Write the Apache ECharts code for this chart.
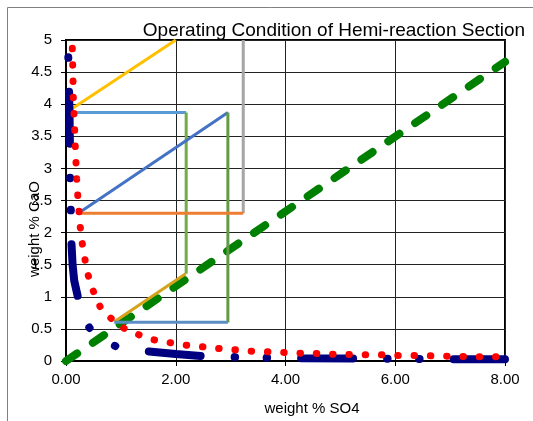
<!DOCTYPE html>
<html>
<head>
<meta charset="utf-8">
<script src="https://cdn.jsdelivr.net/npm/echarts@6/dist/echarts.min.js"></script>
<style>
html,body{margin:0;padding:0;background:#fff;}
#chart{width:533px;height:421px;}
</style>
</head>
<body>
<div id="chart"></div>
<script>
// ---- data ----
const titleText = 'Operating Condition of Hemi-reaction Section';
const xAxisName = 'weight % SO4';
const yAxisName = 'weight % CaO';
const xTickLabels = ['0.00', '2.00', '4.00', '6.00', '8.00'];
const yTickLabels = ['0', '0.5', '1', '1.5', '2', '2.5', '3', '3.5', '4', '4.5', '5'];

// red dotted curve
const redX = [0.115,0.122,0.128,0.133,0.146,0.158,0.169,0.182,0.195,0.213,0.237,0.26,0.297,0.346,0.406,0.497,0.619,0.814,1.056,1.324,1.60,1.90,2.19,2.48,2.78,3.07,3.36,3.66,3.96,4.26,4.55,4.85,5.15,5.45,5.74,6.04,6.34,6.64,6.93,7.23,7.53,7.83,8.0];
const redY = [4.87,4.62,4.36,4.11,3.85,3.61,3.35,3.09,2.84,2.59,2.33,2.08,1.83,1.58,1.33,1.09,0.85,0.67,0.51,0.41,0.33,0.284,0.246,0.222,0.195,0.175,0.153,0.144,0.133,0.122,0.117,0.106,0.101,0.097,0.097,0.086,0.086,0.081,0.075,0.070,0.066,0.066,0.064];

// navy long-dash-dot-dot curve
const navyX = [0.042,0.055,0.065,0.072,0.075,0.088,0.098,0.12,0.15,0.224,0.30,0.425,0.60,0.906,1.20,1.44,2.00,2.50,3.09,3.67,4.30,5.30,5.86,6.46,7.00,8.00];
const navyY = [4.73,4.25,3.80,3.35,2.84,2.34,1.86,1.50,1.25,0.97,0.72,0.52,0.36,0.23,0.18,0.155,0.11,0.075,0.06,0.05,0.043,0.04,0.035,0.03,0.028,0.026];

// green dashed straight line
const greenX = [0, 8];
const greenY = [0, 4.66];

// operating-condition segments
const yellowSeg   = [[0.04, 3.89], [2.0, 5.0]];
const ltBlueSeg   = [[0.03, 3.87], [2.19, 3.87]];
const ltGreenSeg  = [[2.19, 3.87], [2.19, 1.36]];
const blueSeg     = [[0.225, 2.30], [2.95, 3.87]];
const dkGreenSeg  = [[2.95, 3.87], [2.95, 0.60]];
const graySeg     = [[3.23, 5.0], [3.23, 2.30]];
const orangeSeg   = [[0.225, 2.30], [3.23, 2.30]];
const goldSeg     = [[0.88, 0.61], [2.18, 1.36]];
const steelSeg    = [[0.88, 0.605], [2.95, 0.605]];

function zip(xs, ys) { return xs.map((x, i) => [x, ys[i]]); }

const chart = echarts.init(document.getElementById('chart'), null, {renderer: 'canvas'});

function seg(data, color, width) {
  return {type: 'line', data: data, symbol: 'none', silent: true,
    lineStyle: {color: color, width: width || 3}, animation: false};
}

const font = 'Liberation Sans, Arial, sans-serif';

const option = {
  animation: false,
  backgroundColor: '#fff',
  grid: {left: 66, right: 28, top: 40, bottom: 60, show: true, borderColor: '#000', borderWidth: 2},
  xAxis: {
    type: 'value', min: 0, max: 8, interval: 2,
    axisLine: {show: true, onZero: false, lineStyle: {color: '#000', width: 2}},
    axisTick: {show: true, length: 5, lineStyle: {color: '#000'}},
    axisLabel: {color: '#000', fontSize: 15, fontFamily: font, margin: 11,
      formatter: (v) => xTickLabels[Math.round(v / 2)]},
    splitLine: {show: true, lineStyle: {color: '#222', width: 1}}
  },
  yAxis: {
    type: 'value', min: 0, max: 5, interval: 0.5,
    axisLine: {show: true, onZero: false, lineStyle: {color: '#000', width: 2}},
    axisTick: {show: true, length: 5, lineStyle: {color: '#000'}},
    axisLabel: {color: '#000', fontSize: 15, fontFamily: font, margin: 14,
      formatter: (v) => yTickLabels[Math.round(v / 0.5)]},
    splitLine: {show: true, lineStyle: {color: '#222', width: 1}}
  },
  graphic: [
    {type: 'rect', silent: true, z: -1, shape: {x: 7.5, y: 7.5, width: 600, height: 600},
      style: {fill: 'none', stroke: '#808080', lineWidth: 1}},
    {type: 'text', silent: true, z: 100, x: 334, y: 31,
      style: {text: titleText, font: '19px ' + font, fill: '#000', textAlign: 'center', textVerticalAlign: 'middle'}},
    {type: 'text', silent: true, z: 100, x: 312, y: 409,
      style: {text: xAxisName, font: '15px ' + font, fill: '#000', textAlign: 'center', textVerticalAlign: 'middle'}},
    {type: 'text', silent: true, z: 100, x: 35, y: 229, rotation: Math.PI / 2,
      style: {text: yAxisName, font: '15px ' + font, fill: '#000', textAlign: 'center', textVerticalAlign: 'middle'}}
  ],
  series: [
    {type: 'line', data: zip(greenX, greenY), symbol: 'none', silent: true,
      lineStyle: {color: '#008000', width: 8, type: [13.5, 19], cap: 'round'}},
    seg(yellowSeg, '#FFC000'),
    seg(ltBlueSeg, '#5B9BD5'),
    seg(ltGreenSeg, '#70AD47'),
    seg(blueSeg, '#4472C4'),
    seg(dkGreenSeg, '#629A45'),
    seg(graySeg, '#A5A5A5'),
    seg(orangeSeg, '#ED7D31'),
    seg(goldSeg, '#D6A21A'),
    seg(steelSeg, '#5B8EC6'),
    {type: 'line', data: zip(navyX, navyY), symbol: 'none', silent: true,
      lineStyle: {color: '#000080', width: 8, type: [0.5, 34, 52, 34, 0.5, 31.5], cap: 'round'}},
    {type: 'line', data: zip(redX, redY), symbol: 'none', silent: true,
      lineStyle: {color: '#FF0000', width: 7, type: [0.5, 15.8], cap: 'round'}}
  ]
};
chart.setOption(option);
</script>
</body>
</html>
